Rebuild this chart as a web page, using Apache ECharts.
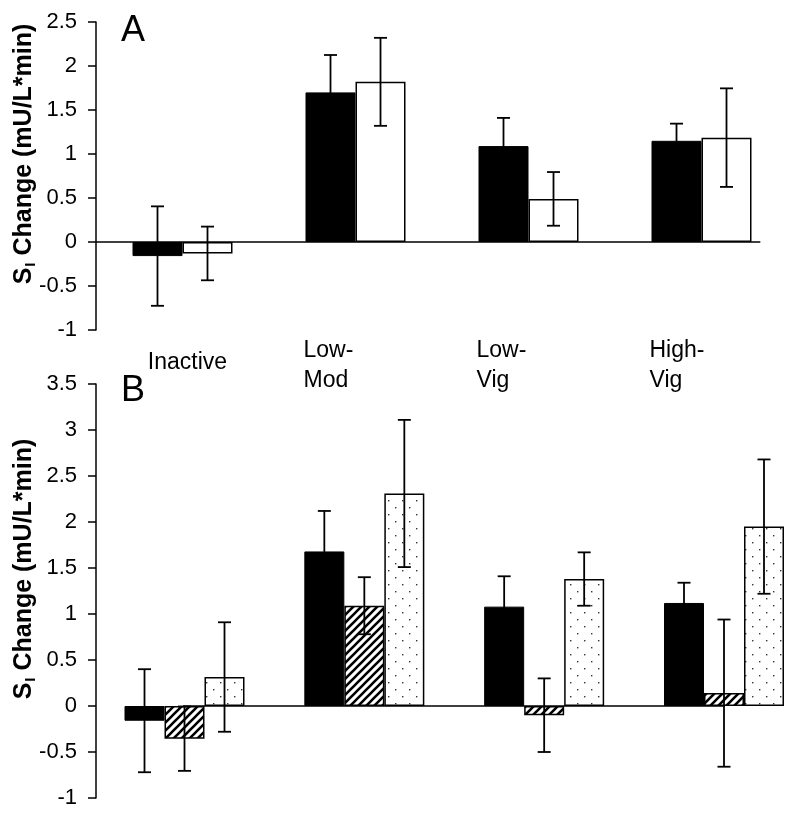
<!DOCTYPE html>
<html>
<head>
<meta charset="utf-8">
<script src="https://cdn.jsdelivr.net/npm/echarts@6/dist/echarts.min.js"></script>
<style>html,body{margin:0;padding:0;background:#fff}#c{width:800px;height:816px}</style>
</head>
<body>
<div id="c"></div>
<script>
// ---- data ----
const categories = ['Inactive', 'Low-\nMod', 'Low-\nVig', 'High-\nVig'];
// Panel A
const aBlack = [-0.16, 1.70, 1.09, 1.15];
const aBlackErr = [0.565, 0.425, 0.32, 0.195];
const aWhite = [-0.13, 1.82, 0.49, 1.186];
const aWhiteErr = [0.305, 0.50, 0.305, 0.56];
// Panel B
const bBlack = [-0.16, 1.68, 1.08, 1.12];
const bBlackErr = [0.56, 0.44, 0.33, 0.22];
const bHatch = [-0.355, 1.09, -0.10, 0.14];
const bHatchErr = [0.35, 0.31, 0.40, 0.80];
const bDots = [0.315, 2.31, 1.38, 1.95];
const bDotsErr = [0.595, 0.80, 0.29, 0.73];
// axis ranges / ticks
const aYRange = [-1, 2.5];
const bYRange = [-1, 3.5];
const yTickStep = 0.5;
// zero-line extent in category units (category k centred at k)
const aZeroLine = [-0.5, 3.34];
const bZeroLine = [-0.49, 3.38];

// ---- patterns ----
function hatchPattern() {
  const s = 8, c = document.createElement('canvas');
  c.width = s; c.height = s;
  const g = c.getContext('2d');
  g.fillStyle = '#fff'; g.fillRect(0, 0, s, s);
  g.strokeStyle = '#000'; g.lineWidth = 2.6;
  g.beginPath();
  g.moveTo(-2, s + 2); g.lineTo(s + 2, -2);
  g.moveTo(-2 - s, s + 2); g.lineTo(2, -2);
  g.moveTo(s - 2, s + 2); g.lineTo(2 * s + 2, -2);
  g.stroke();
  return c;
}
function dotPattern() {
  const s = 14, c = document.createElement('canvas');
  c.width = s; c.height = s;
  const g = c.getContext('2d');
  g.fillStyle = '#fff'; g.fillRect(0, 0, s, s);
  g.fillStyle = '#333';
  g.fillRect(3, 3, 1.4, 1.4);
  g.fillRect(10, 10, 1.4, 1.4);
  return c;
}
const hatchFill = { image: hatchPattern(), repeat: 'repeat' };
const dotFill = { image: dotPattern(), repeat: 'repeat' };

const FONT = 'Liberation Sans, Arial, sans-serif';

function errData(vals, errs) {
  return vals.map((v, i) => [i, v - errs[i], v + errs[i]]);
}
function errSeries(vals, errs, k, n, barW, xi, yi) {
  return {
    type: 'custom', xAxisIndex: xi, yAxisIndex: yi, z: 5, clip: false,
    data: errData(vals, errs),
    encode: { x: 0, y: [1, 2] },
    renderItem: function (params, api) {
      const lo = api.coord([api.value(0), api.value(1)]);
      const hi = api.coord([api.value(0), api.value(2)]);
      const x = lo[0] + (k - (n - 1) / 2) * barW;
      const cw = 6.5;
      const st = { stroke: '#000', lineWidth: 1.8 };
      return {
        type: 'group', children: [
          { type: 'line', shape: { x1: x, y1: lo[1], x2: x, y2: hi[1] }, style: st },
          { type: 'line', shape: { x1: x - cw, y1: hi[1], x2: x + cw, y2: hi[1] }, style: st },
          { type: 'line', shape: { x1: x - cw, y1: lo[1], x2: x + cw, y2: lo[1] }, style: st }
        ]
      };
    }
  };
}

const aBarW = 50, bBarW = 40;
const yTitle = '{b|S}{s|I}{b| Change (mU/L*min)}';
const titleRich = {
  b: { fontSize: 25, fontWeight: 'bold', fontFamily: FONT, color: '#000', lineHeight: 28 },
  s: { fontSize: 15, fontWeight: 'bold', fontFamily: FONT, color: '#000', lineHeight: 28, padding: [13, 0, 0, 1] }
};

function yAxisCfg(gi, range, offset) {
  return {
    type: 'value', gridIndex: gi, min: range[0], max: range[1], interval: yTickStep,
    offset: offset,
    name: yTitle, nameLocation: 'middle', nameGap: 58, nameRotate: 90, nameMoveOverlap: false,
    nameTextStyle: { rich: titleRich, padding: [0, 0, 0, 44] },
    axisLine: { show: true, onZero: false, lineStyle: { color: '#000', width: 1.5 } },
    axisTick: { show: true, inside: false, length: 8, lineStyle: { color: '#000', width: 1.5 } },
    axisLabel: { color: '#000', fontSize: 22, fontFamily: FONT, margin: 19 },
    splitLine: { show: false }
  };
}

const catLabels = categories.map((c, i) => i === 0
  ? { value: c, textStyle: { align: 'center', padding: [12, 0, 0, 10] } }
  : { value: c });

const option = {
  animation: false,
  backgroundColor: '#fff',
  title: [
    { text: 'A', left: 116, top: 8, textStyle: { fontSize: 36, fontWeight: 'normal', fontFamily: FONT, color: '#000' } },
    { text: 'B', left: 116, top: 368, textStyle: { fontSize: 36, fontWeight: 'normal', fontFamily: FONT, color: '#000' } }
  ],
  grid: [
    { left: 96, top: 22, width: 692, height: 308, containLabel: false, outerBoundsMode: 'none' },
    { left: 184.5, top: 384, width: 539.5, height: 414, containLabel: false, outerBoundsMode: 'none' }
  ],
  xAxis: [
    {
      type: 'category', gridIndex: 0, data: catLabels, position: 'bottom',
      axisLine: { show: false, onZero: false }, axisTick: { show: false },
      axisLabel: { color: '#000', fontSize: 23, fontFamily: FONT, lineHeight: 30, margin: 6, align: 'left', padding: [0, 0, 0, -52] }
    },
    {
      type: 'category', gridIndex: 1, data: categories, boundaryGap: false,
      axisLine: { show: false, onZero: false }, axisTick: { show: false }, axisLabel: { show: false }
    },
    { type: 'value', gridIndex: 0, min: -0.5, max: 3.5, show: false },
    { type: 'value', gridIndex: 1, min: 0, max: 3, show: false }
  ],
  yAxis: [yAxisCfg(0, aYRange, 0), yAxisCfg(1, bYRange, 88.5)],
  series: [
    { type: 'bar', xAxisIndex: 0, yAxisIndex: 0, data: aBlack, barWidth: aBarW, barGap: '0%',
      itemStyle: { color: '#000', borderColor: '#000', borderWidth: 1 } },
    { type: 'bar', xAxisIndex: 0, yAxisIndex: 0, data: aWhite, barWidth: aBarW, barGap: '0%',
      itemStyle: { color: '#fff', borderColor: '#000', borderWidth: 1.5 } },
    errSeries(aBlack, aBlackErr, 0, 2, aBarW, 0, 0),
    errSeries(aWhite, aWhiteErr, 1, 2, aBarW, 0, 0),
    { type: 'line', xAxisIndex: 2, yAxisIndex: 0, data: [[aZeroLine[0], 0], [aZeroLine[1], 0]], clip: false,
      symbol: 'none', lineStyle: { color: '#000', width: 1.5 }, z: 4 },

    { type: 'bar', xAxisIndex: 1, yAxisIndex: 1, data: bBlack, barWidth: bBarW, barGap: '0%', clip: false,
      itemStyle: { color: '#000', borderColor: '#000', borderWidth: 1 } },
    { type: 'bar', xAxisIndex: 1, yAxisIndex: 1, data: bHatch, barWidth: bBarW, barGap: '0%', clip: false,
      itemStyle: { color: hatchFill, borderColor: '#000', borderWidth: 1.5 } },
    { type: 'bar', xAxisIndex: 1, yAxisIndex: 1, data: bDots, barWidth: bBarW, barGap: '0%', clip: false,
      itemStyle: { color: dotFill, borderColor: '#000', borderWidth: 1.5 } },
    errSeries(bBlack, bBlackErr, 0, 3, bBarW, 1, 1),
    errSeries(bHatch, bHatchErr, 1, 3, bBarW, 1, 1),
    errSeries(bDots, bDotsErr, 2, 3, bBarW, 1, 1),
    { type: 'line', xAxisIndex: 3, yAxisIndex: 1, data: [[bZeroLine[0], 0], [bZeroLine[1], 0]], clip: false,
      symbol: 'none', lineStyle: { color: '#000', width: 1.5 }, z: 4 }
  ]
};
const chart = echarts.init(document.getElementById('c'), null, { renderer: 'canvas' });
chart.setOption(option);
</script>
</body>
</html>
